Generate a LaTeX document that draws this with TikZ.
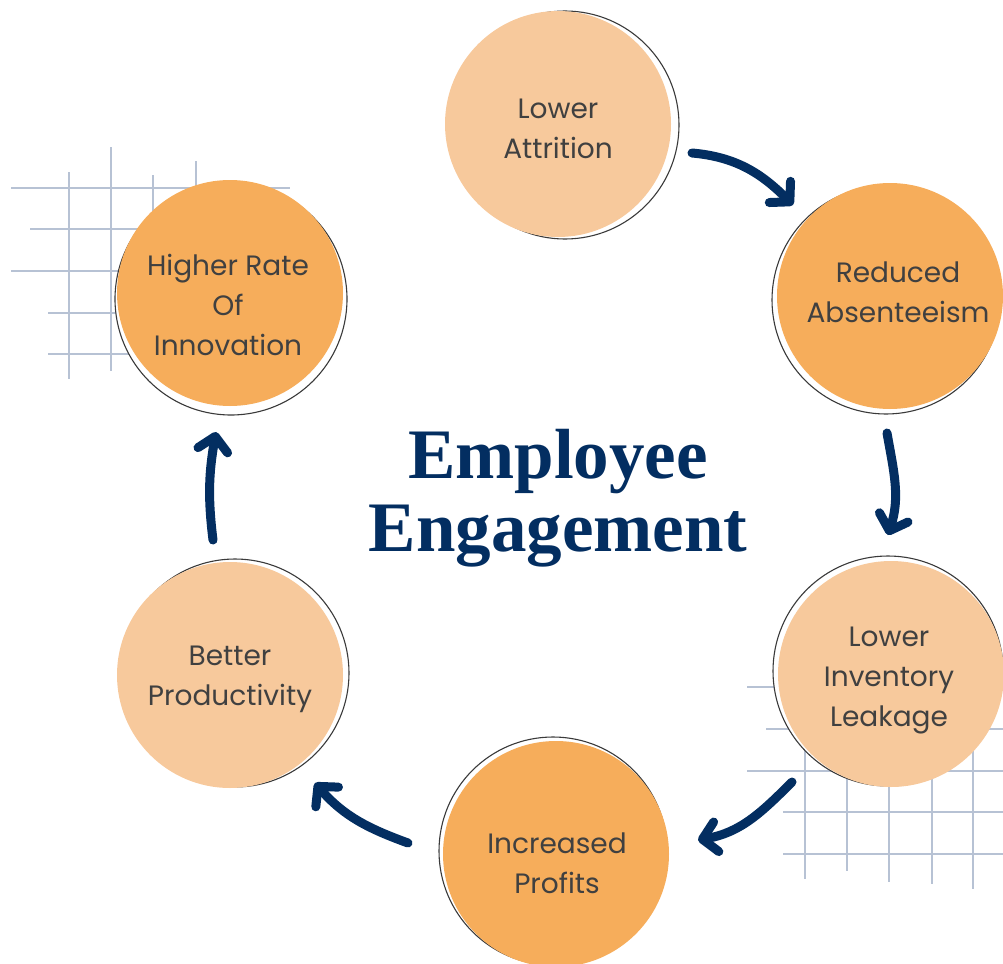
\documentclass[tikz,border=0pt]{standalone}
\usepackage{fontspec}
\setmainfont{Poppins}
\newfontfamily\titlefont{Liberation Serif}
\usetikzlibrary{arrows.meta,calc}
\definecolor{orangeD}{HTML}{F6AD5B}
\definecolor{orangeL}{HTML}{F7C99C}
\definecolor{navy}{HTML}{032E61}
\definecolor{gridc}{HTML}{B7C2D4}
\definecolor{txt}{HTML}{404040}
\definecolor{ringc}{HTML}{3A3A3A}
\begin{document}
\begin{tikzpicture}[x=1pt,y=-1pt,
  disk/.style={circle,inner sep=0pt,minimum size=226pt},
  lbl/.style={text=txt,align=center,inner sep=0pt,
    font=\fontsize{28}{40}\selectfont},
  ring/.style={draw=ringc,line width=1.1pt,fill=white},
  gridline/.style={draw=gridc,line width=1.5pt},
  cyc/.style={draw=navy,line width=9pt,line cap=round,
    -{Straight Barb[length=14pt,width=30pt,round]}}]
\useasboundingbox (0,0) rectangle (1003,963);
% grid top-left
\foreach \y/\a in {188/11,229/30,271/11,313/48,354/48} \draw[gridline] (\a,\y) -- (290,\y);
\draw[gridline] (69,172) -- (69,379);
\draw[gridline] (111,147) -- (111,371);
\draw[gridline] (153,175) -- (153,300);
\draw[gridline] (196,161) -- (196,300);
% grid bottom-right
\foreach \y/\a in {687/747,729/766,771/747,812/783,854/783} \draw[gridline] (\a,\y) -- (1003,\y);
\foreach \x/\b in {805/879,847/871,889/882,932/884,973/889} \draw[gridline] (\x,680) -- (\x,\b);
% rings
\draw[ring] (565,125) circle (114);
\draw[ring] (886,300) circle (114);
\draw[ring] (888,671) circle (115);
\draw[ring] (553,851) circle (114);
\draw[ring] (235,673) circle (114);
\draw[ring] (231,299) circle (116);
% discs
\node[disk,fill=orangeL] (la) at (558,124) {};
\node[disk,fill=orangeD] (ra) at (890,296) {};
\node[disk,fill=orangeL] (lil) at (891,674) {};
\node[disk,fill=orangeD] (ip) at (556,854) {};
\node[disk,fill=orangeL] (bp) at (230,675) {};
\node[disk,fill=orangeD] (hri) at (230,293) {};
% texts
\node[lbl] (la-t) at ($(la)+(0,5)$) {Lower\\Attrition};
\node[lbl] (ra-t) at ($(ra)+(8,-4)$) {Reduced\\Absenteeism};
\node[lbl] (lil-t) at ($(lil)+(-2,7)$) {Lower\\Inventory\\Leakage};
\node[lbl] (ip-t) at ($(ip)+(1,9)$) {Increased\\Profits};
\node[lbl] (bp-t) at ($(bp)+(0,4)$) {Better\\Productivity};
\node[lbl] (hri-t) at ($(hri)+(-2,12)$) {Higher Rate\\Of\\Innovation};
% title
\node[text=navy,align=center,font=\titlefont\bfseries\fontsize{71}{73}\selectfont] (title) at (558,498) {Employee\\Engagement};
% arrows
\coordinate (a1s) at (692,153); \coordinate (a1e) at (793,205);
\coordinate (a2s) at (887,433); \coordinate (a2e) at (888,535);
\coordinate (a3s) at (792,782); \coordinate (a3e) at (698,840);
\coordinate (a4s) at (408,843); \coordinate (a4e) at (315,783);
\coordinate (a5s) at (213,540); \coordinate (a5e) at (216,432);
\draw[cyc] (a1s) to[out=-5,in=135] (a1e);
\draw[cyc] (a2s) to[out=-80,in=72] (a2e);
\draw[cyc] (a3s) to[out=225,in=10] (a3e);
\draw[cyc] (a4s) to[out=160,in=311] (a4e);
\draw[cyc] (a5s) to[out=97,in=260] (a5e);
\end{tikzpicture}
\end{document}
